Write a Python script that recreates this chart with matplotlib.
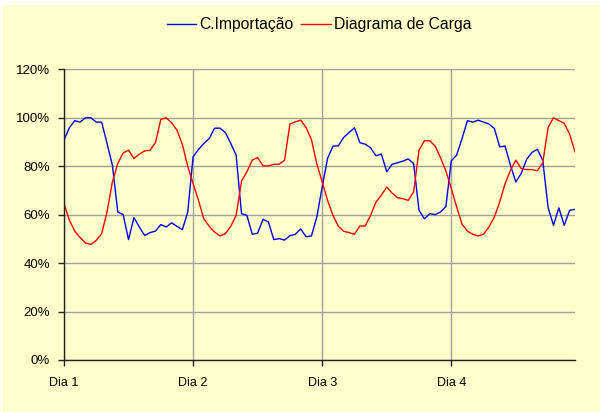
import matplotlib.pyplot as plt
from matplotlib.patches import Rectangle

# hourly values, 4 days x 24 h (percent)
importacao = [
    90.8, 95.9, 98.8, 98.2, 100, 100, 98.2, 98.2, 89.4, 80.4, 61.1, 60,
    49.7, 58.8, 54.9, 51.4, 52.6, 53.2, 55.9, 54.9, 56.6, 55.2, 53.8, 61,
    83.9, 86.9, 89.4, 91.4, 95.7, 95.7, 93.9, 89.4, 84.6, 60.4, 59.7, 51.9,
    52.4, 58.1, 57, 49.7, 50.1, 49.5, 51.3, 51.9, 54.1, 50.9, 51.2, 59,
    71.4, 83.2, 88.3, 88.4, 91.9, 93.9, 95.9, 89.7, 89.1, 87.6, 84.3, 85,
    77.7, 80.8, 81.4, 82.1, 83, 81.1, 61.8, 58.3, 60.4, 60, 61.1, 63.4,
    82.2, 84.6, 91.4, 98.8, 98.2, 99, 98.2, 97.4, 95.6, 88, 88.3, 80.4,
    73.5, 77, 82.8, 85.7, 87, 82.5, 62.9, 55.6, 62.8, 55.6, 61.8, 62.2,
]
carga = [
    64.6, 57.7, 53.2, 50.5, 48.3, 47.7, 49.4, 52.1, 61.1, 73.5, 81.1, 85.5,
    86.6, 83.2, 85, 86.3, 86.6, 89.7, 99.3, 100, 97.9, 94.9, 89, 80,
    72.8, 65.9, 58.3, 55.2, 52.8, 51.2, 52.1, 55.2, 59.7, 73.8, 77.7, 82.5,
    83.6, 80.1, 80.1, 80.8, 80.8, 82.5, 97.4, 98.3, 99, 96, 91, 81,
    73.5, 65.9, 59.7, 55.2, 53.1, 52.6, 51.9, 55.3, 55.3, 59.7, 65.2, 68,
    71.4, 68.9, 67, 66.6, 65.9, 69.4, 86.6, 90.5, 90.5, 88.3, 83.5, 78,
    70.8, 63.2, 56.1, 53.2, 51.9, 51.2, 51.9, 54.9, 59, 65.2, 72.8, 78.3,
    82.5, 79, 78.6, 78.6, 78.1, 81.4, 96, 100, 98.8, 97.7, 93.2, 85.9,
]
dias = ['Dia 1', 'Dia 2', 'Dia 3', 'Dia 4']

bg = '#FFFFCC'
plt.rcParams['font.family'] = ['Liberation Sans', 'DejaVu Sans']

fig = plt.figure(figsize=(6, 4.12), dpi=100, facecolor='white')
fig.patches.append(Rectangle((3 / 600, 0), 1, 1 - 5 / 412, transform=fig.transFigure,
                             facecolor=bg, edgecolor='none', zorder=-10))
ax = fig.add_axes([64 / 600, 1 - 360 / 412, 511 / 600, 290.7 / 412])
ax.set_facecolor(bg)

x = list(range(len(importacao)))
ax.plot(x, importacao, color='#0000FF', lw=1.0, label='C.Importação')
ax.plot(x, carga, color='#FF0000', lw=1.0, label='Diagrama de Carga')

ax.set_xlim(0, len(x) - 1)
ax.set_ylim(0, 120)
ax.set_yticks(range(0, 121, 20))
ax.set_yticklabels(['{}%'.format(v) for v in range(0, 121, 20)], fontsize=9.5)
ax.set_xticks([24 * i for i in range(len(dias))])
ax.set_xticklabels(dias, fontsize=9)
ax.tick_params(axis='both', length=4, width=1, color='#222222')
ax.tick_params(axis='y', pad=6)
ax.tick_params(axis='x', pad=8)

ax.grid(True, color='#A0A0A0', lw=1)
ax.set_axisbelow(True)
for s in ['top', 'right']:
    ax.spines[s].set_visible(False)
for s in ['left', 'bottom']:
    ax.spines[s].set_color('#222222')
    ax.spines[s].set_linewidth(1)

fig.legend(loc='center', bbox_to_anchor=(319 / 600, 1 - 25 / 412), ncol=2, frameon=False,
           fontsize=11.3, handlelength=1.9, handletextpad=0.2, columnspacing=0.45)

plt.savefig('out.png', dpi=100, facecolor='white')
plt.close()
